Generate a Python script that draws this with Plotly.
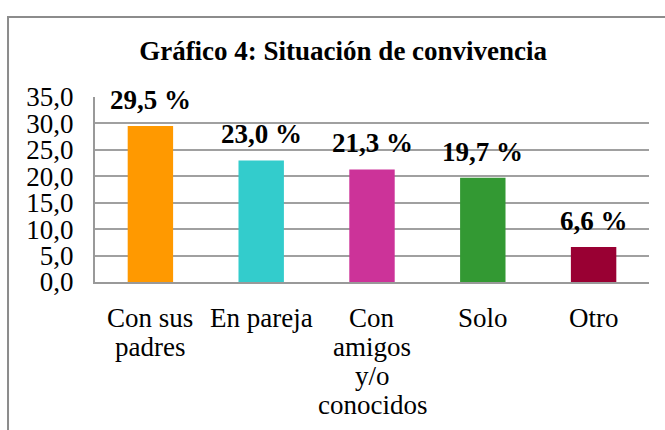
import plotly.graph_objects as go

# Datos del gráfico
categorias = ["Con sus<br>padres", "En pareja", "Con<br>amigos<br>y/o<br>conocidos", "Solo", "Otro"]
porcentajes = [29.5, 23.0, 21.3, 19.7, 6.6]
colores = ["#FF9900", "#33CCCC", "#CC3399", "#339933", "#990033"]
ticks_y = [0, 5, 10, 15, 20, 25, 30, 35]

fuente = "Liberation Serif, Times New Roman, serif"
tam = 27

fig = go.Figure()
fig.add_trace(go.Bar(
    x=categorias,
    y=porcentajes,
    marker=dict(color=colores, line=dict(width=0)),
    showlegend=False,
    hoverinfo="skip",
))

# Etiquetas de datos encima de cada barra
for cat, val in zip(categorias, porcentajes):
    fig.add_annotation(
        x=cat, y=val, xref="x", yref="y",
        text="<b>" + f"{val:.1f} %".replace(".", ",") + "</b>",
        showarrow=False, yanchor="bottom", yshift=9,
        font=dict(family=fuente, size=tam, color="black"),
    )

# Etiquetas de categoría (interlineado más estrecho que el de plotly)
for cat in categorias:
    for i, linea in enumerate(cat.split("<br>")):
        fig.add_annotation(
            x=cat, y=0, xref="x", yref="paper",
            text=linea, showarrow=False, yanchor="middle",
            yshift=-(36 + 29 * i),
            font=dict(family=fuente, size=tam, color="black"),
        )

# Marco exterior del gráfico
fig.add_shape(
    type="rect", xref="paper", yref="paper",
    x0=-0.157, x1=1.05, y0=-0.9, y1=1.432,
    line=dict(color="#8c8c8c", width=2), fillcolor="rgba(0,0,0,0)",
    layer="below",
)

fig.update_layout(
    width=665, height=430,
    margin=dict(l=95, r=16, t=97, b=148),
    paper_bgcolor="white", plot_bgcolor="white",
    separators=",.",
    bargap=0.59,
    font=dict(family=fuente, size=tam, color="black"),
    title=dict(
        text="<b>Gráfico 4: Situación de convivencia</b>",
        x=0.516, xanchor="center", y=0.883, yanchor="middle",
        font=dict(family=fuente, size=tam, color="black"),
    ),
    xaxis=dict(
        showgrid=False, showline=True, linecolor="#999999", linewidth=2,
        ticks="", showticklabels=False, automargin=False, fixedrange=True,
    ),
    yaxis=dict(
        range=[0, 35], tickvals=ticks_y, tickformat=".1f",
        showgrid=True, gridcolor="#a0a0a0", gridwidth=2,
        showline=True, linecolor="#999999", linewidth=2,
        zeroline=False, ticks="", ticklen=0, tickfont=dict(size=tam),
        ticklabelstandoff=14, automargin=False, fixedrange=True,
    ),
)

# quitar el margen por defecto del <body> para que la figura empiece en (0, 0)
fig.write_html(
    "out.html",
    config={"displayModeBar": False},
    post_script="document.body.style.margin='0';",
)
